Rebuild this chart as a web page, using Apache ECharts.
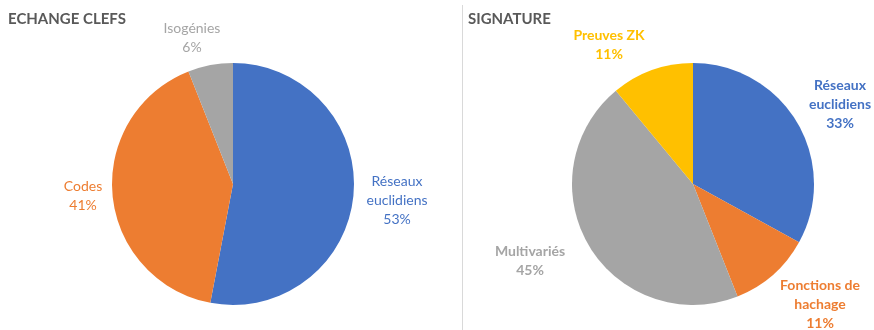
<!DOCTYPE html>
<html><head><meta charset="utf-8">
<script src="https://cdn.jsdelivr.net/npm/echarts@6/dist/echarts.min.js"></script>
<style>html,body{margin:0;padding:0;background:#fff}#c{width:874px;height:330px}</style>
</head><body><div id="c"></div>
<script>
const keyCategories = ['Réseaux\neuclidiens', 'Codes', 'Isogénies'];
const keyValues = [53, 41, 6];
const sigCategories = ['Réseaux\neuclidiens', 'Fonctions de\nhachage', 'Multivariés', 'Preuves ZK'];
const sigValues = [33, 11, 45, 11];
const keyColors = ['#4472C4', '#ED7D31', '#A5A5A5'];
const sigColors = ['#4472C4', '#ED7D31', '#A5A5A5', '#FFC000'];
const keyLabelPos = [[397, 200], [83, 196], [192, 38]];
const sigLabelPos = [[840, 104], [820, 304], [530, 261], [609, 45]];

const FONT = 'Lato, "Open Sans", sans-serif';
function mkData(cats, vals, cols) {
  return cats.map((c, i) => ({ name: c, value: vals[i], itemStyle: { color: cols[i] }, label: { color: cols[i] } }));
}
function mkSeries(cats, vals, cols, center, pos, bold) {
  return {
    type: 'pie', center: center, radius: 121, startAngle: 90, clockwise: true,
    data: mkData(cats, vals, cols),
    label: {
      show: true, position: 'outside', formatter: '{b}\n{c}%', overflow: 'none', alignTo: 'none',
      fontFamily: FONT, fontSize: 14, lineHeight: 19, fontWeight: bold ? 'bold' : 'normal', align: 'center'
    },
    labelLine: { show: false },
    labelLayout: function (p) { const q = pos[p.dataIndex]; return { x: q[0], y: q[1], align: 'center', verticalAlign: 'middle' }; },
    itemStyle: { borderWidth: 0 },
    emphasis: { disabled: true }, animation: false
  };
}
const chart = echarts.init(document.getElementById('c'), null, { renderer: 'canvas' });
chart.setOption({
  backgroundColor: '#fff',
  title: [
    { text: 'ECHANGE CLEFS', left: 3, top: 7, textStyle: { fontFamily: FONT, fontSize: 15, fontWeight: 'bold', color: '#595959' } },
    { text: 'SIGNATURE', left: 463, top: 7, textStyle: { fontFamily: FONT, fontSize: 15, fontWeight: 'bold', color: '#595959' } }
  ],
  graphic: [{ type: 'line', shape: { x1: 462.5, y1: 5, x2: 462.5, y2: 330 }, style: { stroke: '#d9d9d9', lineWidth: 1 } }],
  series: [
    mkSeries(keyCategories, keyValues, keyColors, [233, 184], keyLabelPos, false),
    mkSeries(sigCategories, sigValues, sigColors, [693, 184], sigLabelPos, true)
  ]
});
</script></body></html>
